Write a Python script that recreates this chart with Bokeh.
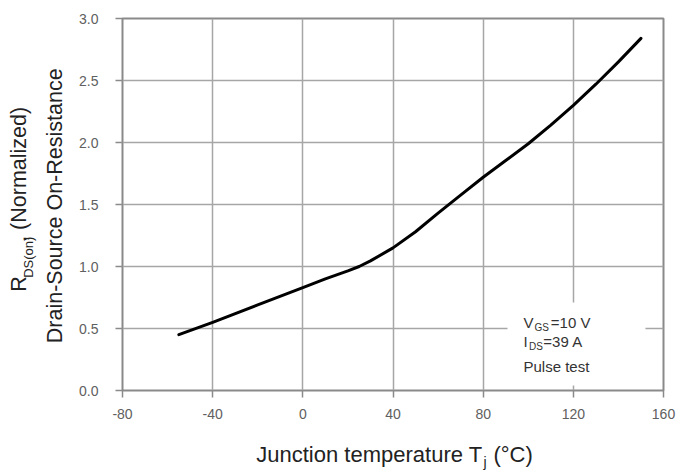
import math
from bokeh.plotting import figure
from bokeh.layouts import row, column
from bokeh.models import Range1d, FixedTicker, NumeralTickFormatter, Label, BoxAnnotation
from bokeh.embed import file_html
from bokeh.resources import INLINE

# Data
temps = [-55, -40, -20, 0, 10, 20, 25, 30, 40, 50, 60, 70, 80, 90, 100, 110, 120, 130, 140, 150]
rds_norm = [0.45, 0.55, 0.69, 0.83, 0.90, 0.965, 1.00, 1.045, 1.15, 1.28, 1.43, 1.575, 1.72,
            1.855, 1.99, 2.14, 2.30, 2.47, 2.65, 2.84]
x_ticks = [-80, -40, 0, 40, 80, 120, 160]
y_ticks = [0.0, 0.5, 1.0, 1.5, 2.0, 2.5, 3.0]

FONT = "Liberation Sans"
TITLE_COLOR = "#222222"
TEXT_COLOR = "#333333"


def blank_fig(w, h):
    f = figure(width=w, height=h, x_range=Range1d(0, w), y_range=Range1d(0, h),
               min_border_left=0, min_border_right=0, min_border_top=0, min_border_bottom=0,
               x_axis_location=None, y_axis_location=None,
               output_backend="svg", toolbar_location=None, tools="")
    f.grid.visible = False
    f.outline_line_color = None
    f.background_fill_color = "white"
    f.border_fill_color = "white"
    return f


def lab(fig, x, y, t, size, angle=0.0, align="left", color=TEXT_COLOR):
    fig.add_layout(Label(x=x, y=y, text=t, text_font=FONT, text_font_size=f"{size}px",
                         text_color=color, angle=angle, text_align=align,
                         text_baseline="alphabetic"))


# ---- main chart ----
p = figure(frame_width=541, frame_height=372,
           min_border_left=46, min_border_right=31, min_border_top=18, min_border_bottom=36,
           x_range=Range1d(-80, 160), y_range=Range1d(0, 3),
           output_backend="svg", toolbar_location=None, tools="")

p.line(temps, rds_norm, line_color="black", line_width=3, line_join="round", line_cap="round")

p.outline_line_color = "#8a8a8a"
p.outline_line_width = 2
p.background_fill_color = "white"
p.border_fill_color = "white"

for g in (p.xgrid[0], p.ygrid[0]):
    g.grid_line_color = "#a6a6a6"
    g.grid_line_width = 1.5
p.xgrid[0].ticker = FixedTicker(ticks=x_ticks)
p.ygrid[0].ticker = FixedTicker(ticks=y_ticks)

xa = p.xaxis[0]
ya = p.yaxis[0]
xa.ticker = FixedTicker(ticks=x_ticks)
ya.ticker = FixedTicker(ticks=y_ticks)
xa.formatter = NumeralTickFormatter(format="0")
ya.formatter = NumeralTickFormatter(format="0.0")
for ax in (xa, ya):
    ax.axis_line_color = None
    ax.major_tick_line_color = "#8a8a8a"
    ax.major_tick_line_width = 1.5
    ax.major_tick_out = 7
    ax.major_tick_in = 0
    ax.minor_tick_line_color = None
    ax.major_label_text_font = FONT
    ax.major_label_text_font_size = "14px"
    ax.major_label_text_color = "#606060"
xa.major_label_standoff = 11
ya.major_label_standoff = 17

# Condition box (white background behind the text)
p.add_layout(BoxAnnotation(left=90.8, right=152.0, bottom=0.04, top=0.71,
                           fill_color="white", fill_alpha=1.0, line_color=None, level="underlay"))

lab(p, 97.9, 0.5475, "V", 15)
lab(p, 102.8, 0.507, "GS", 10)
lab(p, 110.0, 0.5475, "=10 V", 15)
lab(p, 97.9, 0.3945, "I", 15)
lab(p, 100.3, 0.354, "DS", 10)
lab(p, 106.7, 0.3945, "=39 A", 15)
lab(p, 97.9, 0.1925, "Pulse test", 15)

# ---- y axis title panel (left) ----
yt = blank_fig(76, 426)
a = math.pi / 2
lab(yt, 18.6, 113, "R", 21.5, angle=a, color=TITLE_COLOR)
lab(yt, 27.7, 129, "DS(on)", 13, angle=a, color=TITLE_COLOR)
lab(yt, 18.6, 170.2, ", (Normalized)", 21.5, angle=a, color=TITLE_COLOR)
lab(yt, 54.6, 211.5, "Drain-Source On-Resistance", 21.5, angle=a, align="center", color=TITLE_COLOR)

# ---- x axis title panel (bottom) ----
xt = blank_fig(694, 49)
lab(xt, 482, 20.6, "Junction temperature T", 22, align="right", color=TITLE_COLOR)
lab(xt, 483, 13.5, "j", 14, color=TITLE_COLOR)
lab(xt, 493, 20.6, "(°C)", 22, color=TITLE_COLOR)

layout = column(row(yt, p, spacing=0), xt, spacing=0)
open("out.html", "w").write(file_html(layout, INLINE))
